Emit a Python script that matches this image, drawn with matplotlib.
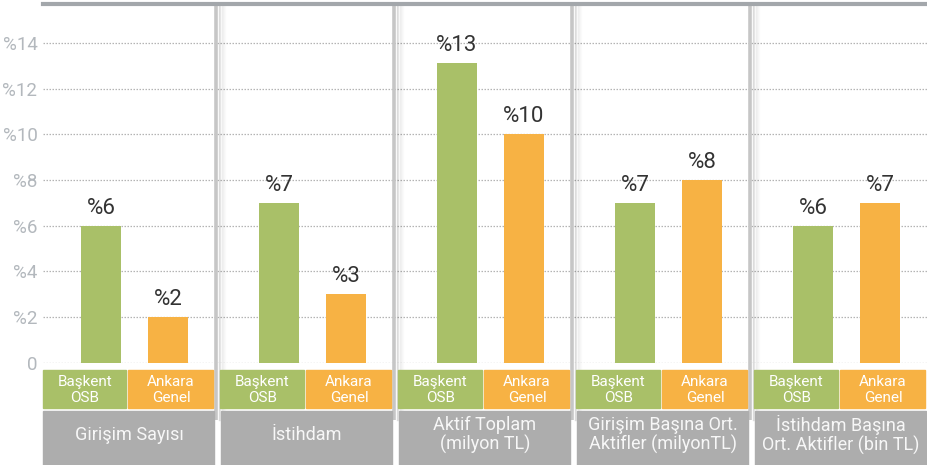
import matplotlib
matplotlib.use("Agg")
import matplotlib.pyplot as plt
import matplotlib.transforms as mtransforms
from matplotlib.patches import Rectangle

plt.rcParams['font.family'] = ['Roboto', 'DejaVu Sans']

categories = ["Girişim Sayısı", "İstihdam", "Aktif Toplam\n(milyon TL)",
              "Girişim Başına Ort.\nAktifler (milyonTL)", "İstihdam Başına\nOrt. Aktifler (bin TL)"]
series_names = ["Başkent\nOSB", "Ankara\nGenel"]
baskent = [6, 7, 13.1, 7, 6]
ankara = [2, 3, 10, 8, 7]
value_labels_b = ["%6", "%7", "%13", "%7", "%6"]
value_labels_a = ["%2", "%3", "%10", "%8", "%7"]
yticks = [0, 2, 4, 6, 8, 10, 12, 14]
ytick_labels = ["0", "%2", "%4", "%6", "%8", "%10", "%12", "%14"]

GREEN = "#a9c068"
ORANGE = "#f7b244"
GRAYBOX = "#adadad"

W, H = 927, 465
fig = plt.figure(figsize=(W / 100, H / 100), dpi=100)
ax_left, ax_right = 43 / W, 1.0
ax_bottom = (H - 362.8) / H
ax_top = (H - 4) / H
ax = fig.add_axes([ax_left, ax_bottom, ax_right - ax_left, ax_top - ax_bottom])

px = 1 / 178.0
xmin, xmax = -0.4747, 4.4916
ax.set_xlim(xmin, xmax)
ax.set_ylim(0, 15.70)

off_g, off_o, bw = -26.5 * px, 40.5 * px, 40 * px
xs = list(range(len(categories)))
ax.bar([x + off_g for x in xs], baskent, width=bw, color=GREEN, zorder=3)
ax.bar([x + off_o for x in xs], ankara, width=bw, color=ORANGE, zorder=3)

for x, v, l in zip(xs, baskent, value_labels_b):
    ax.annotate(l, (x + off_g, v), xytext=(0, 5), textcoords="offset points",
                ha="center", va="bottom", fontsize=16, color="#333333", zorder=5)
for x, v, l in zip(xs, ankara, value_labels_a):
    ax.annotate(l, (x + off_o, v), xytext=(0, 5), textcoords="offset points",
                ha="center", va="bottom", fontsize=16, color="#333333", zorder=5)

# grid
for y in yticks:
    ax.axhline(y, color="#b4b4b4", lw=0.9, ls=(0, (1.2, 1.2)), zorder=1)

ax.set_yticks(yticks)
ax.set_yticklabels(ytick_labels)
ax.tick_params(axis="y", length=0, pad=4, labelsize=13.5, labelcolor="#b3b8bd")
ax.set_xticks([])
for s in ["left", "right", "bottom"]:
    ax.spines[s].set_visible(False)
ax.spines["top"].set_color("#a3a7ab")
ax.spines["top"].set_linewidth(3.0)

trans = mtransforms.blended_transform_factory(ax.transData, ax.transAxes)
ah = 358.8
def ay(pix):
    return (362.8 - pix) / ah

# separators with shadow
for k in range(4):
    b = k + 0.5
    for i, a in enumerate([0.12, 0.08, 0.06, 0.04, 0.025, 0.015]):
        ax.plot([b + (2.5 + i * 1.3) * px] * 2, [1.0, ay(420)], transform=trans,
                color="black", alpha=a, lw=1.0, clip_on=False, zorder=2)
    ax.plot([b, b], [1.0, ay(420)], transform=trans, color="#c6c6c6", lw=2.6,
            clip_on=False, zorder=2, solid_capstyle="butt")

# label boxes
for k, cat in enumerate(categories):
    left = max(xmin, k - 0.5 + 4 * px)
    gx0, gx1 = left, k - 1 * px
    ox0, ox1 = k + 1 * px, k + 0.5 - 3 * px
    y0, y1 = ay(408), ay(370)
    ax.add_patch(Rectangle((gx0, y0), gx1 - gx0, y1 - y0, transform=trans,
                           color=GREEN, clip_on=False, zorder=3))
    ax.add_patch(Rectangle((ox0, y0), ox1 - ox0, y1 - y0, transform=trans,
                           color=ORANGE, clip_on=False, zorder=3))
    ax.text((gx0 + gx1) / 2, ay(390), series_names[0], transform=trans, ha="center",
            va="center", fontsize=11, color="white", linespacing=1.15, zorder=4)
    ax.text((ox0 + ox1) / 2, ay(390), series_names[1], transform=trans, ha="center",
            va="center", fontsize=11, color="white", linespacing=1.15, zorder=4)
    bx0 = max(xmin, k - 0.5 + 5 * px)
    bx1 = k + 0.5 - 2 * px
    ax.add_patch(Rectangle((bx0, ay(470)), bx1 - bx0, ay(411) - ay(470), transform=trans,
                           color=GRAYBOX, clip_on=False, zorder=3))
    ax.text((bx0 + bx1) / 2, ay(435), cat, transform=trans, ha="center", va="center",
            fontsize=13, color="#f7f7f7", linespacing=1.1, zorder=4)

fig.savefig("out.png", dpi=100)
